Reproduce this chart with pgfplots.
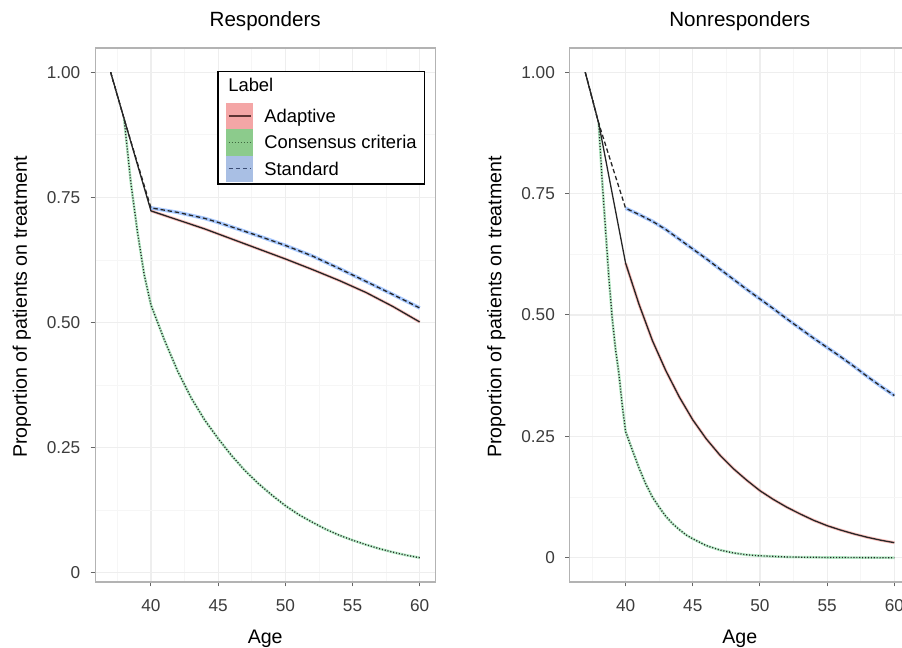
\documentclass[border=0pt]{standalone}
\usepackage{fontspec}
\setmainfont{Liberation Sans}
\usepackage{pgfplots}
\pgfplotsset{compat=1.18}
\usepackage{pgfplotstable}

\definecolor{adaptfill}{HTML}{F8766D}
\definecolor{consfill}{HTML}{00BA38}
\definecolor{stdfill}{HTML}{619CFF}
\definecolor{adaptkey}{HTML}{F4A6A6}
\definecolor{conskey}{HTML}{8CCB8C}
\definecolor{stdkey}{HTML}{A9BFE4}
\definecolor{adaptline}{HTML}{5E3434}
\definecolor{consline}{HTML}{3E683E}
\definecolor{stdline}{HTML}{3A4C74}
\definecolor{gridmajor}{HTML}{EEEEEE}
\definecolor{gridminor}{HTML}{F6F6F6}
\definecolor{panelborder}{HTML}{B3B3B3}
\definecolor{ticktext}{HTML}{3C3C3C}

% ---- Responders: proportion still on treatment, by age ----
\pgfplotstableread{
age  p
37   1.000
38   0.907
40   0.723
42   0.705
44   0.687
45   0.677
46   0.667
48   0.647
50   0.627
52   0.606
54   0.584
55   0.572
56   0.560
58   0.532
60   0.501
}\respAdapt

\pgfplotstableread{
age   p
37    1.000
38    0.907
38.5  0.780
39    0.680
39.5  0.595
40    0.535
41    0.465
42    0.402
43    0.349
44    0.305
45    0.268
46    0.234
47    0.204
48    0.178
49    0.155
50    0.134
51    0.116
52    0.101
53    0.087
54    0.075
55    0.065
56    0.056
57    0.048
58    0.041
59    0.035
60    0.030
}\respCons

\pgfplotstableread{
age  p
37   1.000
38   0.907
40   0.729
42   0.720
44   0.708
45   0.700
46   0.691
48   0.673
50   0.654
52   0.633
54   0.608
55   0.595
56   0.582
58   0.556
60   0.529
}\respStd

% ---- Nonresponders ----
\pgfplotstableread{
age  p
37   1.000
38   0.895
40   0.607
41   0.522
42   0.447
43   0.385
44   0.331
45   0.284
46   0.245
47   0.212
48   0.184
49   0.160
50   0.138
51   0.120
52   0.104
53   0.090
54   0.077
55   0.066
56   0.057
57   0.049
58   0.042
59   0.036
60   0.031
}\nonrAdapt

\pgfplotstableread{
age    p
37     1.000
38     0.895
38.25  0.780
38.5   0.680
38.75  0.580
39     0.495
39.25  0.430
39.5   0.380
39.75  0.315
40     0.260
40.5   0.222
41     0.185
41.5   0.152
42     0.125
42.5   0.104
43     0.085
43.5   0.070
44     0.058
44.5   0.047
45     0.039
46     0.025
47     0.016
48     0.010
49     0.006
50     0.004
52     0.0015
55     0.0005
60     0.000
}\nonrCons

\pgfplotstableread{
age  p
37   1.000
38   0.895
40   0.720
41   0.707
42   0.693
43   0.676
44   0.656
45   0.636
46   0.616
47   0.595
48   0.574
49   0.553
50   0.533
51   0.513
52   0.492
53   0.472
54   0.452
55   0.433
56   0.414
57   0.394
58   0.373
59   0.353
60   0.334
}\nonrStd

\pgfplotsset{
  panel/.style={
    scale only axis, width=170pt, height=267pt,
    xmin=35.85, xmax=61.15,
    xtick={40,45,50,55,60},
    minor xtick={37.5,42.5,47.5,52.5,57.5},
    ytick={0,0.25,0.5,0.75,1},
    yticklabels={0,0.25,0.50,0.75,1.00},
    minor ytick={0.125,0.375,0.625,0.875},
    grid=both,
    major grid style={gridmajor, line width=0.55pt},
    minor grid style={gridminor, line width=0.4pt},
    axis line style={panelborder, line width=0.6pt},
    tick pos=left, tick align=outside,
    major tick length=2.25pt, minor tick length=0pt,
    tick style={black!60, line width=0.5pt},
    /pgf/number format/assume math mode=true,
    tick label style={font=\fontsize{8.6}{10}\selectfont, text=ticktext},
    xticklabel style={yshift=-3pt},
    yticklabel style={xshift=-1.7pt},
    every axis title/.style={at={(axis description cs:0.5,1)}, anchor=base,
      yshift=10.65pt, font=\fontsize{10.3}{12}\selectfont},
    every axis x label/.style={at={(axis description cs:0.5,0)}, anchor=base,
      yshift=-31pt, font=\fontsize{9.8}{12}\selectfont},
    every axis y label/.style={at={(axis description cs:-0.2012,0.515)}, anchor=base,
      rotate=90, font=\fontsize{9.8}{12}\selectfont},
    xlabel=Age, ylabel={Proportion of patients on treatment},
  },
  ribbon/.style={line width=1.5pt, opacity=0.45, forget plot},
  centre/.style={line width=0.65pt, black!85, forget plot},
  dotted centre/.style={centre, dash pattern=on 0.55pt off 0.9pt},
  dashed centre/.style={centre, dash pattern=on 2.2pt off 1.4pt},
}

\begin{document}
\begin{tikzpicture}
\useasboundingbox (0,0) rectangle (451pt,324pt);
\clip (0,0) rectangle (451pt,324pt);

\begin{axis}[panel, at={(47.6pt,33pt)}, anchor=south west,
  title=Responders, ymin=-0.0185, ymax=1.0485,
  legend cell align=left,
  legend style={at={(axis description cs:0.3588,0.9569)}, anchor=north west,
    draw=black, line width=0.7pt, inner xsep=4pt, inner ysep=1pt,
    row sep=0pt, column sep=5.5pt, font=\fontsize{9.2}{11}\selectfont,
    nodes={inner sep=0pt, text height=9pt, text depth=2.4pt}},
]
\addplot[ribbon, adaptfill, restrict x to domain=40:61] table[x=age, y=p] {\respAdapt};
\addplot[ribbon, consfill, opacity=0.28, line width=1.3pt, restrict x to domain=38:61] table[x=age, y=p] {\respCons};
\addplot[ribbon, stdfill, opacity=0.55, line width=1.8pt, restrict x to domain=40:61] table[x=age, y=p] {\respStd};
\addplot[centre] table[x=age, y=p] {\respAdapt};
\addplot[dotted centre] table[x=age, y=p] {\respCons};
\addplot[dashed centre] table[x=age, y=p] {\respStd};

\addlegendimage{empty legend}
\addlegendentry[text depth=5.5pt]{\hspace*{-18pt}Label}
\addlegendimage{legend image code/.code={
  \fill[adaptkey] (0pt,-6.25pt) rectangle (13pt,6.25pt);
  \draw[adaptline, line width=0.7pt] (1pt,0pt) -- (12pt,0pt);}}
\addlegendentry{Adaptive}
\addlegendimage{legend image code/.code={
  \fill[conskey] (0pt,-6.25pt) rectangle (13pt,6.25pt);
  \draw[consline, line width=0.7pt, dash pattern=on 0.6pt off 0.9pt] (1pt,0pt) -- (12pt,0pt);}}
\addlegendentry{Consensus criteria}
\addlegendimage{legend image code/.code={
  \fill[stdkey] (0pt,-6.25pt) rectangle (13pt,6.25pt);
  \draw[stdline, line width=0.7pt, dash pattern=on 2.2pt off 1.4pt] (1pt,0pt) -- (12pt,0pt);}}
\addlegendentry{Standard}
\end{axis}

\begin{axis}[panel, at={(284.9pt,33pt)}, anchor=south west,
  title=Nonresponders, ymin=-0.05, ymax=1.05]
\addplot[ribbon, adaptfill, restrict x to domain=40:61] table[x=age, y=p] {\nonrAdapt};
\addplot[ribbon, consfill, opacity=0.28, line width=1.3pt, restrict x to domain=38:61] table[x=age, y=p] {\nonrCons};
\addplot[ribbon, stdfill, opacity=0.55, line width=1.8pt, restrict x to domain=40:61] table[x=age, y=p] {\nonrStd};
\addplot[centre] table[x=age, y=p] {\nonrAdapt};
\addplot[dotted centre] table[x=age, y=p] {\nonrCons};
\addplot[dashed centre] table[x=age, y=p] {\nonrStd};
\end{axis}
\end{tikzpicture}
\end{document}
